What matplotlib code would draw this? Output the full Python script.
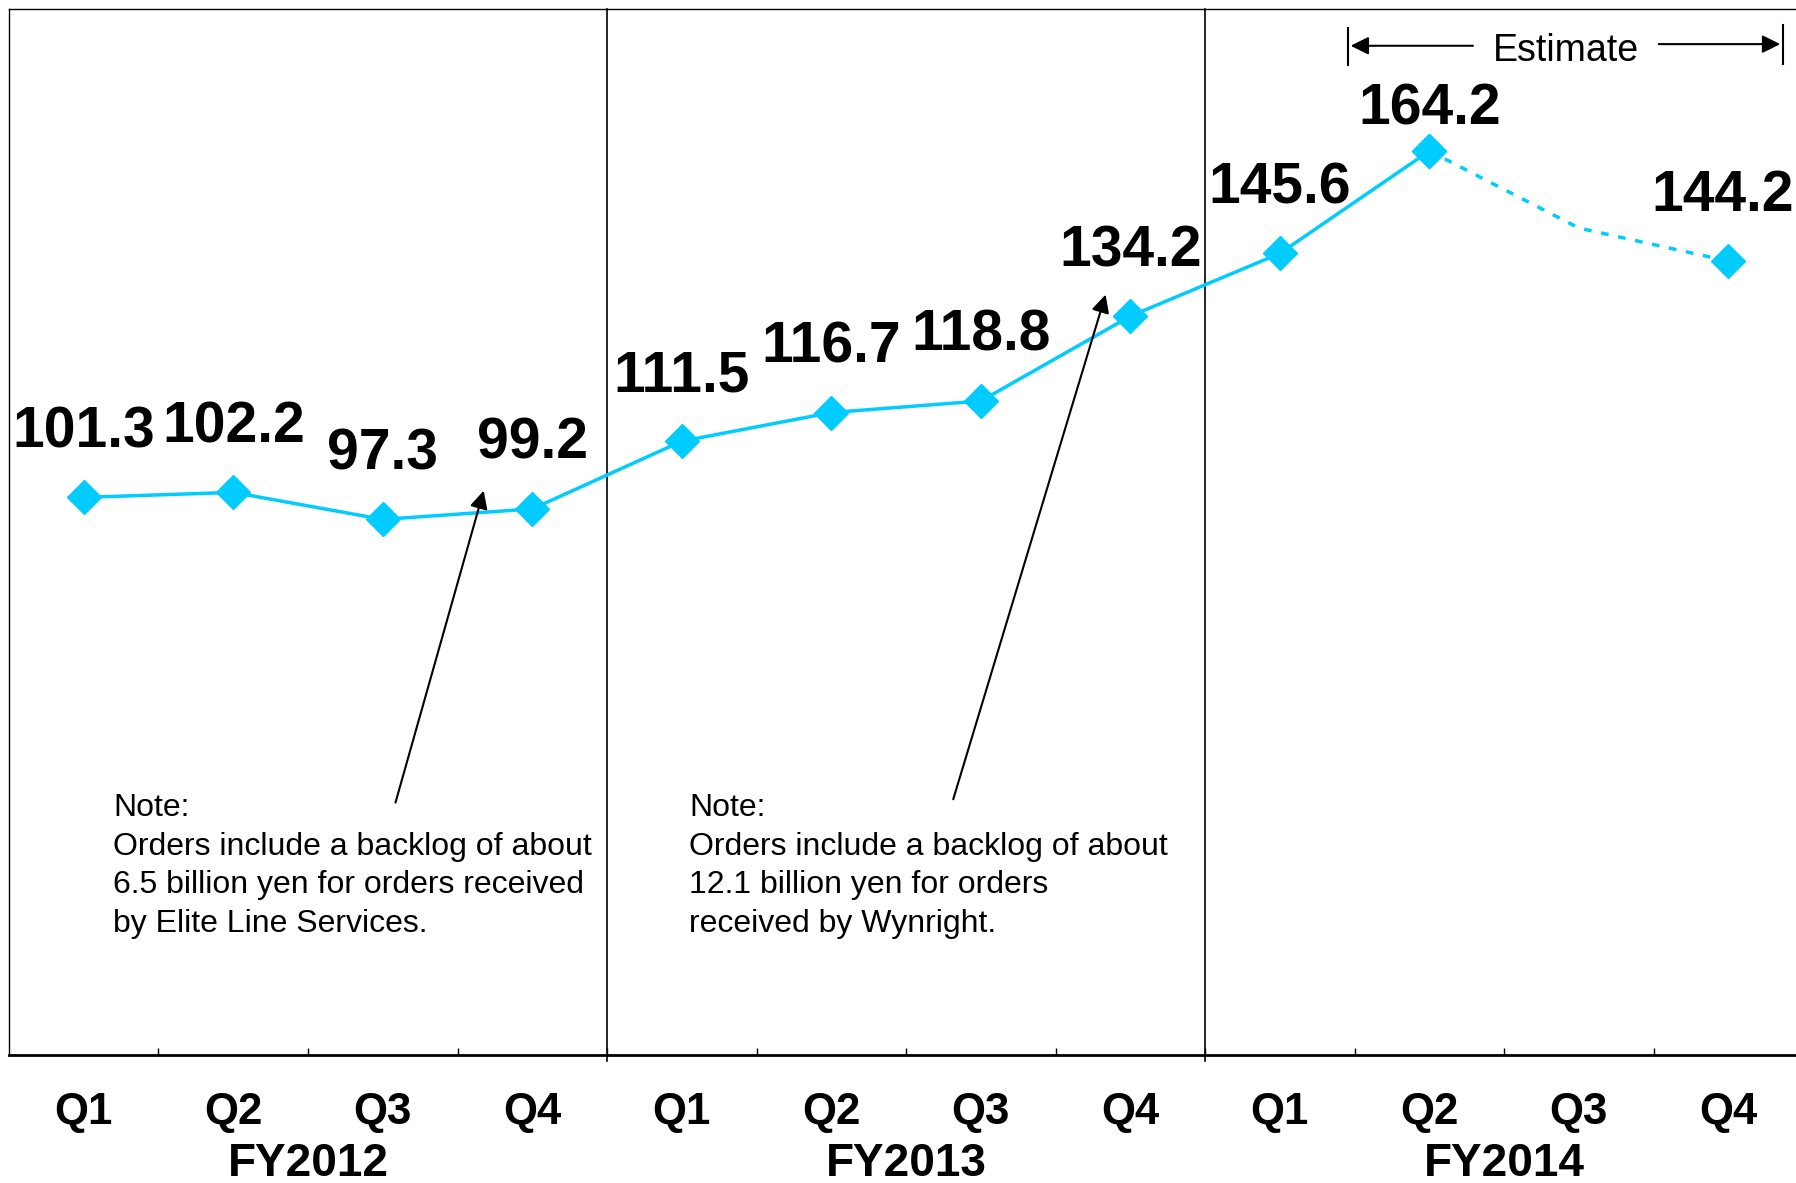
import matplotlib
matplotlib.use('Agg')
import matplotlib.pyplot as plt

plt.rcParams['font.family'] = ['Liberation Sans', 'DejaVu Sans']

# data
quarters = ['Q1', 'Q2', 'Q3', 'Q4'] * 3
years = ['FY2012', 'FY2013', 'FY2014']
actual = [101.3, 102.2, 97.3, 99.2, 111.5, 116.7, 118.8, 134.2, 145.6, 164.2]
estimate = [164.2, 150.2, 144.2]          # Q2..Q4 FY2014, Q3 has no marker
estimate_marked = [164.2, None, 144.2]
note_2012 = ('Note:\nOrders include a backlog of about\n'
             '6.5 billion yen for orders received\nby Elite Line Services.')
note_2013 = ('Note:\nOrders include a backlog of about\n'
             '12.1 billion yen for orders\nreceived by Wynright.')

cyan = '#00CCFF'

fig = plt.figure(figsize=(17.96, 11.83), dpi=100)
ax = fig.add_axes([0.005, 0.108, 0.999, 0.8845])
ax.set_xlim(-0.5, 11.5)
ax.set_ylim(0, 190)

x_act = list(range(len(actual)))
x_est = [9, 10, 11]
ax.plot(x_act, actual, color=cyan, lw=2.5, marker='D', ms=17, mec=cyan, zorder=3)
ax.plot(x_est, estimate, color=cyan, lw=2.5, dashes=(2.2, 2.8), zorder=3)
ax.plot([x for x, v in zip(x_est, estimate_marked) if v is not None],
        [v for v in estimate_marked if v is not None],
        ls='none', marker='D', ms=17, color=cyan, zorder=3)

# value labels
labels = actual + [estimate[-1]]
xs = x_act + [11]
for x, v in zip(xs, labels):
    off = 19 if v == max(labels) else 36
    dx = -4 if x == 11 else 0   # keep the last label inside the figure
    ax.annotate(f'{v:.1f}', (x, v), xytext=(dx, off), textcoords='offset points',
                ha='center', va='baseline', fontsize=41, fontweight='bold')

# year dividers
for xd in [3.5, 7.5]:
    ax.plot([xd, xd], [-1, 190], color='black', lw=1.2, clip_on=False)

# axes styling
ax.set_yticks([])
ax.set_xticks([i + 0.5 for i in range(11)])
ax.set_xticklabels([])
ax.tick_params(axis='x', direction='in', length=5, width=1)
ax.spines['bottom'].set_linewidth(2)
for s in ['left', 'top']:
    ax.spines[s].set_linewidth(1)

# quarter and year labels
for i, q in enumerate(quarters):
    ax.text(i, -10.4, q, ha='center', va='center', fontsize=31.5, fontweight='bold',
            clip_on=False)
for j, y in enumerate(years):
    ax.text(1.5 + 4 * j, -19.7, y, ha='center', va='center', fontsize=33,
            fontweight='bold', clip_on=False)

# notes with arrows
ax.text(0.195, 47.6, note_2012, ha='left', va='top', fontsize=23,
        linespacing=1.37)
ax.text(4.05, 47.6, note_2013, ha='left', va='top', fontsize=23,
        linespacing=1.37)
arrow = dict(arrowstyle='-|>', color='black', lw=1.5, mutation_scale=27)
ax.annotate('', xy=(2.68, 103.0), xytext=(2.08, 45.4), arrowprops=arrow)
ax.annotate('', xy=(6.84, 138.6), xytext=(5.81, 46.0), arrowprops=arrow)

# estimate bracket
ax.plot([8.455, 8.455], [179.8, 186.6], color='black', lw=1.5)
ax.plot([11.365, 11.365], [180.0, 187.0], color='black', lw=1.5)
ax.annotate('', xy=(8.455, 183.3), xytext=(9.31, 183.3), arrowprops=arrow)
ax.annotate('', xy=(11.365, 183.6), xytext=(10.515, 183.6), arrowprops=arrow)
ax.text(9.91, 182.3, 'Estimate', ha='center', va='center', fontsize=27)

plt.savefig('out.png', dpi=100)
